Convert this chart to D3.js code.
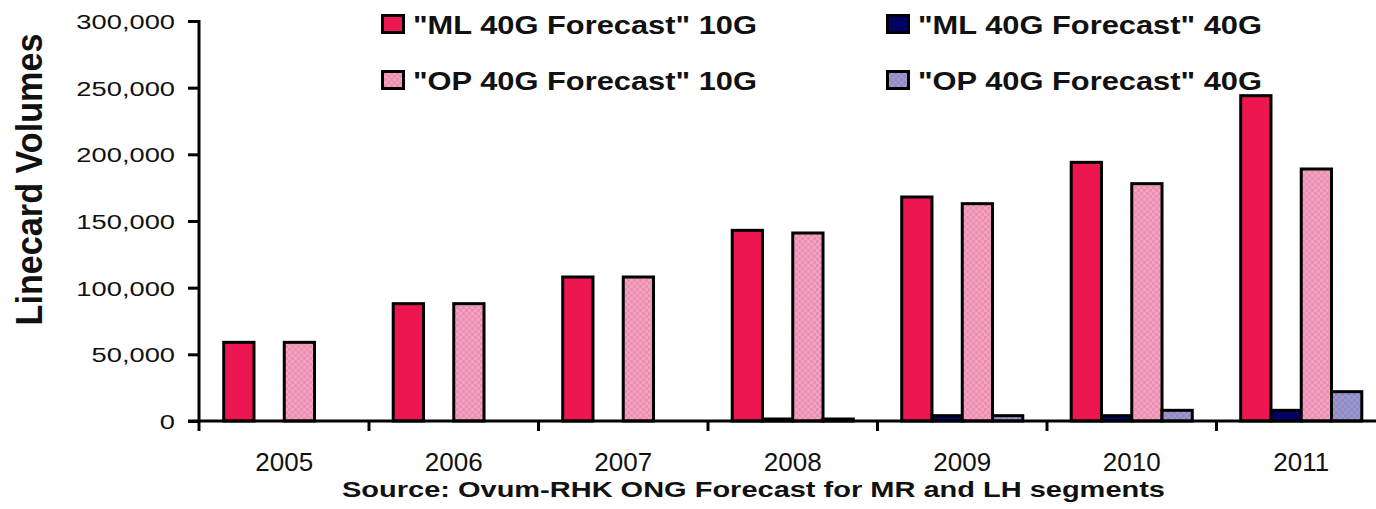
<!DOCTYPE html>
<html>
<head>
<meta charset="utf-8">
<script src="https://cdn.jsdelivr.net/npm/d3@7"></script>
<style>
  html, body { margin: 0; padding: 0; background: #fff; }
  svg { display: block; }
  text { font-family: "Liberation Sans", Arial, sans-serif; fill: #111; }
</style>
</head>
<body>
<svg id="chart" width="1376" height="509"></svg>
<script>
// Linecard volume forecasts, 10G vs 40G, by year
const years = ["2005", "2006", "2007", "2008", "2009", "2010", "2011"];
const seriesNames = [
  '"ML 40G Forecast" 10G',
  '"ML 40G Forecast" 40G',
  '"OP 40G Forecast" 10G',
  '"OP 40G Forecast" 40G'
];
const ml10G = [59000, 88000, 108000, 143000, 168000, 194000, 244000];
const ml40G = [0, 0, 0, 1500, 4000, 4000, 8000];
const op10G = [59000, 88000, 108000, 141000, 163000, 178000, 189000];
const op40G = [0, 0, 0, 1500, 4000, 8000, 22000];
const yTicks = [0, 50000, 100000, 150000, 200000, 250000, 300000];
const yTitle = "Linecard Volumes";
const sourceNote = "Source:  Ovum-RHK ONG Forecast for MR and LH segments";

const seriesValues = [ml10G, ml40G, op10G, op40G];
const fills = ["#EE1650", "#000066", "url(#chkPink)", "url(#chkLav)"];

const svg = d3.select("#chart");

// checkered fills for the OP series
const defs = svg.append("defs");
function checker(id, a, b) {
  const p = defs.append("pattern").attr("id", id)
    .attr("patternUnits", "userSpaceOnUse").attr("width", 6).attr("height", 6);
  p.append("rect").attr("width", 6).attr("height", 6).attr("fill", a);
  p.append("rect").attr("width", 3).attr("height", 3).attr("fill", b);
  p.append("rect").attr("x", 3).attr("y", 3).attr("width", 3).attr("height", 3).attr("fill", b);
}
checker("chkPink", "#F3A3C2", "#EC8EB2");
checker("chkLav", "#9D99CF", "#8E8AC3");

// scales
const x = d3.scaleBand().domain(years).range([199.5, 1386]).padding(0);
const xs = d3.scaleBand().domain(d3.range(4)).range([0, x.bandwidth()])
  .paddingInner(0).paddingOuter(0.8);
const y = d3.scaleLinear().domain([0, 300000]).range([421, 21]);

// bars
const rows = [];
years.forEach((yr, i) => {
  seriesValues.forEach((vals, s) => {
    if (vals[i] > 0) rows.push({ yr, s, v: vals[i] });
  });
});
svg.append("g").selectAll("rect").data(rows).join("rect")
  .attr("x", d => x(d.yr) + xs(d.s))
  .attr("width", xs.bandwidth())
  .attr("y", d => y(d.v))
  .attr("height", d => y(0) - y(d.v))
  .attr("fill", d => fills[d.s])
  .attr("stroke", "#000")
  .attr("stroke-width", 3);

// y axis
const yAxis = svg.append("g").attr("transform", "translate(199,0)")
  .call(d3.axisLeft(y).tickValues(yTicks).tickSize(11).tickSizeOuter(0)
    .tickFormat(d3.format(",")));
yAxis.select(".domain").attr("stroke", "#000").attr("stroke-width", 3)
  .attr("d", `M0,${y(300000) - 1}V${y(0) + 10}`);
yAxis.selectAll(".tick line").attr("stroke", "#000").attr("stroke-width", 3);
yAxis.selectAll(".tick text")
  .attr("x", null).attr("dy", null)
  .attr("font-size", 21)
  .attr("text-anchor", "end")
  .attr("fill", "#000")
  .attr("transform", "translate(-24,7.5) scale(1.3,1)");

// x axis: baseline, category boundary ticks, year labels
svg.append("line")
  .attr("x1", 188).attr("x2", 1376)
  .attr("y1", y(0)).attr("y2", y(0))
  .attr("stroke", "#000").attr("stroke-width", 3);
svg.append("g").selectAll("line").data(years.slice(1)).join("line")
  .attr("x1", d => x(d)).attr("x2", d => x(d))
  .attr("y1", y(0)).attr("y2", y(0) + 10)
  .attr("stroke", "#000").attr("stroke-width", 3);
svg.append("g").selectAll("text").data(years).join("text")
  .attr("x", d => x(d) + x.bandwidth() / 2)
  .attr("y", 471)
  .attr("text-anchor", "middle")
  .attr("font-size", 26)
  .attr("fill", "#000")
  .text(d => d);

// y axis title
svg.append("text")
  .attr("transform", "translate(42,179.5) rotate(-90) scale(1.14,1.26)")
  .attr("text-anchor", "middle")
  .attr("font-size", 30)
  .attr("font-weight", "bold")
  .text(yTitle);

// source note
svg.append("text")
  .attr("x", 342).attr("y", 497)
  .attr("font-size", 22)
  .attr("font-weight", "bold")
  .attr("textLength", 823)
  .attr("lengthAdjust", "spacingAndGlyphs")
  .text(sourceNote);

// legend: two columns, two rows
const legendPos = [
  { sx: 381, tx: 413, cy: 24 },
  { sx: 886, tx: 918, cy: 24 },
  { sx: 381, tx: 413, cy: 80 },
  { sx: 886, tx: 918, cy: 80 }
];
const lg = svg.append("g").selectAll("g").data(seriesNames).join("g");
lg.append("rect")
  .attr("x", (d, i) => legendPos[i].sx + 1.5)
  .attr("y", (d, i) => legendPos[i].cy - 8.5)
  .attr("width", 21).attr("height", 17)
  .attr("fill", (d, i) => fills[i])
  .attr("stroke", "#000").attr("stroke-width", 3);
lg.append("text")
  .attr("x", (d, i) => legendPos[i].tx)
  .attr("y", (d, i) => legendPos[i].cy + 10)
  .attr("font-size", 26)
  .attr("font-weight", "bold")
  .attr("textLength", 344)
  .attr("lengthAdjust", "spacingAndGlyphs")
  .text(d => d);
</script>
</body>
</html>
